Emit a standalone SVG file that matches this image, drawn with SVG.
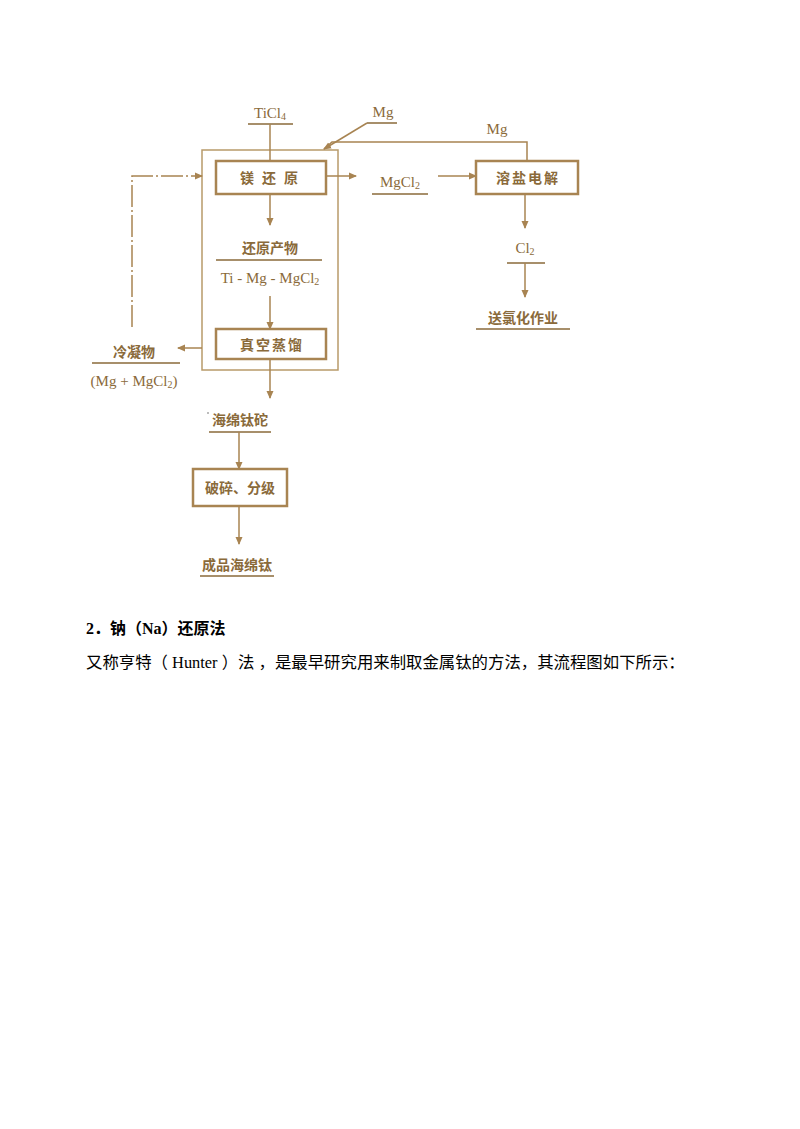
<svg xmlns="http://www.w3.org/2000/svg" width="800" height="1129" viewBox="0 0 800 1129">
<style>
.b{fill:none;stroke:#a88452;stroke-width:2.5}
.o{fill:none;stroke:#b89a6a;stroke-width:1.5}
.l{fill:none;stroke:#a88452;stroke-width:1.5}
.u{stroke:#8a6a3a;stroke-width:1.5}
.t{font-family:"Noto Sans CJK SC",sans-serif;font-size:14px;fill:#8a6a3a;text-anchor:middle;font-weight:bold}
.f{font-family:"Liberation Serif",serif;font-size:15px;fill:#8a6a3a;text-anchor:middle}
.d{font-family:"Liberation Serif","Noto Sans CJK SC",serif;fill:#000}
</style>
<defs><marker id="a" markerWidth="8" markerHeight="10" refX="7" refY="5" orient="auto" markerUnits="userSpaceOnUse"><path d="M0,1.5 L8,5 L0,8.5 Z" fill="#a88452"/></marker></defs>
<rect width="800" height="1129" fill="#fff"/>
<g id="outer"><rect class="o" x="202" y="150" width="136" height="220"/></g>
<g id="n1"><rect class="b" x="216" y="161" width="110" height="33"/><text class="t" x="273" y="183" letter-spacing="8">镁还原</text></g>
<g id="n2"><rect class="b" x="216" y="329" width="110" height="30"/><text class="t" x="272" y="350" letter-spacing="2">真空蒸馏</text></g>
<g id="n3"><rect class="b" x="476" y="161" width="102" height="33"/><text class="t" x="528" y="183" letter-spacing="2">溶盐电解</text></g>
<g id="n4"><rect class="b" x="193" y="469" width="94" height="37"/><text class="t" x="240" y="493">破碎、分级</text></g>
<g id="labels">
<text class="f" x="270" y="118">TiCl<tspan font-size="10" dy="2">4</tspan></text><line class="u" x1="248" y1="124" x2="293" y2="124"/>
<text class="f" x="383" y="117">Mg</text><line class="u" x1="367" y1="123" x2="397" y2="123"/>
<text class="f" x="497" y="134">Mg</text>
<text class="f" x="400" y="187">MgCl<tspan font-size="10" dy="2">2</tspan></text><line class="u" x1="372" y1="194" x2="428" y2="194"/>
<text class="f" x="525" y="253">Cl<tspan font-size="10" dy="2">2</tspan></text><line class="u" x1="507" y1="263" x2="545" y2="263"/>
<text class="t" x="523" y="323">送氯化作业</text><line class="u" x1="476" y1="329" x2="570" y2="329"/>
<text class="t" x="270" y="253">还原产物</text><line class="u" x1="216" y1="260" x2="322" y2="260"/>
<text class="f" x="270" y="283">Ti - Mg - MgCl<tspan font-size="10" dy="2">2</tspan></text>
<text class="t" x="134" y="357">冷凝物</text><line class="u" x1="92" y1="363" x2="180" y2="363"/>
<text class="f" x="134" y="386">(Mg + MgCl<tspan font-size="10" dy="2">2</tspan><tspan dy="-2">)</tspan></text>
<text class="t" x="240" y="425">海绵钛砣</text><line class="u" x1="209" y1="432" x2="271" y2="432"/>
<text class="t" x="237" y="570">成品海绵钛</text><line class="u" x1="200" y1="576" x2="274" y2="576"/>
</g>
<g id="connectors">
<line class="l" x1="270" y1="124" x2="270" y2="161"/>
<line class="l" x1="367" y1="123" x2="324" y2="149" marker-end="url(#a)"/>
<polyline class="l" points="527,161 527,142 332,142 324,149"/>
<line class="l" x1="326" y1="176" x2="356" y2="176" marker-end="url(#a)"/>
<line class="l" x1="438" y1="176" x2="476" y2="176" marker-end="url(#a)"/>
<line class="l" x1="525" y1="194" x2="525" y2="228" marker-end="url(#a)"/>
<line class="l" x1="525" y1="263" x2="525" y2="297" marker-end="url(#a)"/>
<line class="l" x1="270" y1="194" x2="270" y2="225" marker-end="url(#a)"/>
<line class="l" x1="270" y1="296" x2="270" y2="329" marker-end="url(#a)"/>
<polyline class="l" points="132,327 132,176 202,176" stroke-dasharray="22,3,2,3" marker-end="url(#a)"/>
<line class="l" x1="202" y1="348" x2="178" y2="348" marker-end="url(#a)"/>
<line class="l" x1="270" y1="359" x2="270" y2="398" marker-end="url(#a)"/>
<line class="l" x1="239" y1="432" x2="239" y2="469" marker-end="url(#a)"/>
<line class="l" x1="239" y1="506" x2="239" y2="544" marker-end="url(#a)"/>
</g>
<circle cx="208" cy="413" r="0.8" fill="#666"/>
<text class="d" x="86" y="634" font-size="16" font-weight="bold">2．钠（Na）还原法</text>
<text class="d" x="86" y="668" font-size="16.4">又称亨特（ Hunter ）法 ，是最早研究用来制取金属钛的方法，其流程图如下所示：</text>
</svg>
